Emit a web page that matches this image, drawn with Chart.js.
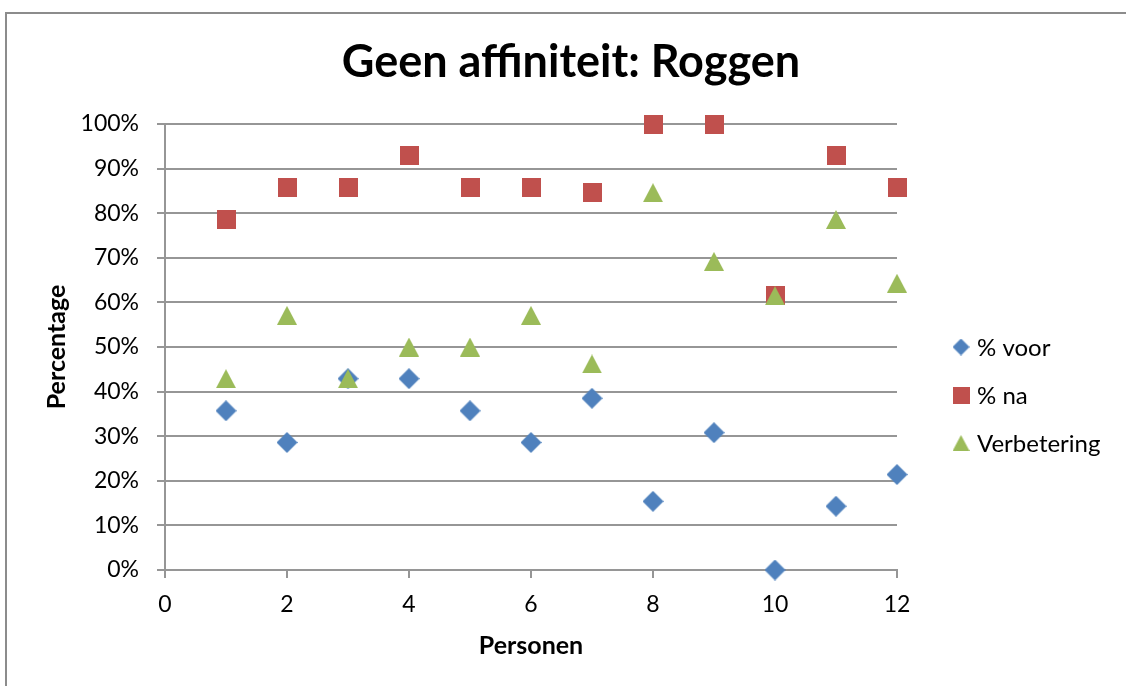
<!DOCTYPE html>
<html>
<head>
<meta charset="utf-8">
<title>Geen affiniteit: Roggen</title>
<script src="https://cdn.jsdelivr.net/npm/chart.js@4.4.1/dist/chart.umd.min.js"></script>
<style>
  html, body { margin: 0; padding: 0; background: #ffffff; }
  #wrap { position: relative; width: 1126px; height: 686px; }
</style>
</head>
<body>
<div id="wrap"><canvas id="chart" width="1126" height="686"></canvas></div>
<script>
// Person numbers on the x axis
const personen = [1, 2, 3, 4, 5, 6, 7, 8, 9, 10, 11, 12];

// Scores in percent
const pctVoor = [35.7, 28.6, 42.9, 42.9, 35.7, 28.6, 38.5, 15.4, 30.8, 0, 14.3, 21.4];
const pctNa = [78.6, 85.7, 85.7, 92.9, 85.7, 85.7, 84.6, 100, 100, 61.5, 92.9, 85.7];
const verbetering = [42.9, 57.1, 42.9, 50, 50, 57.1, 46.2, 84.6, 69.2, 61.5, 78.6, 64.3];

// Series labels and axis texts
const seriesNames = ['% voor', '% na', 'Verbetering'];
const chartTitle = 'Geen affiniteit: Roggen';
const xTitle = 'Personen';
const yTitle = 'Percentage';

// Axis tick ranges
const xRange = [0, 12];
const xStep = 2;
const yRange = [0, 100];
const yStep = 10;

const FONT = 'Lato';
const GRID = '#969696';

// Marker glyphs drawn on small canvases and used as point styles
function marker(shape, fill, w, h) {
  const c = document.createElement('canvas');
  c.width = w; c.height = h;
  const g = c.getContext('2d');
  g.fillStyle = fill;
  g.beginPath();
  if (shape === 'diamond') {
    g.moveTo(w / 2, 0); g.lineTo(w, h / 2); g.lineTo(w / 2, h); g.lineTo(0, h / 2);
  } else if (shape === 'square') {
    g.rect(0, 0, w, h);
  } else {
    g.moveTo(w / 2, 0); g.lineTo(w, h); g.lineTo(0, h);
  }
  g.closePath();
  g.fill();
  return c;
}

const BLUE = '#4F81BD', RED = '#C0504D', GREEN = '#9BBB59';
const pointMarkers = [
  marker('diamond', BLUE, 21, 21),
  marker('square', RED, 19, 19),
  marker('triangle', GREEN, 20, 19)
];
const legendMarkers = [
  marker('diamond', BLUE, 17, 17),
  marker('square', RED, 17, 17),
  marker('triangle', GREEN, 17, 16)
];

const toPoints = (vals) => personen.map((x, i) => ({ x: x, y: vals[i] }));

// Outer frame of the chart
const framePlugin = {
  id: 'frame',
  beforeDraw(chart) {
    const ctx = chart.ctx;
    ctx.save();
    ctx.fillStyle = '#ffffff';
    ctx.fillRect(0, 0, chart.width, chart.height);
    ctx.strokeStyle = '#8c8c8c';
    ctx.lineWidth = 2;
    ctx.beginPath();
    ctx.moveTo(6, chart.height);
    ctx.lineTo(6, 13);
    ctx.lineTo(chart.width, 13);
    ctx.stroke();
    ctx.restore();
  }
};

// Legend placed as a layout box on the right of the plot
const sideLegendPlugin = {
  id: 'sideLegend',
  beforeInit(chart) {
    const box = {
      position: 'right',
      weight: 10,
      fullSize: false,
      options: {},
      left: 0, top: 0, right: 0, bottom: 0, width: 0, height: 0,
      isHorizontal() { return false; },
      update(maxWidth, maxHeight) { this.width = 229; this.height = maxHeight; },
      draw() {
        const ctx = chart.ctx;
        const area = chart.chartArea;
        const mid = (area.top + area.bottom) / 2;
        ctx.save();
        ctx.font = '24px ' + FONT;
        ctx.fillStyle = '#000000';
        ctx.textAlign = 'left';
        ctx.textBaseline = 'middle';
        chart.data.datasets.forEach((ds, i) => {
          const y = mid + i * 48;
          const m = legendMarkers[i];
          ctx.drawImage(m, this.left + 64 - m.width / 2, y - m.height / 2);
          ctx.fillText(ds.label, this.left + 80, y + 1);
        });
        ctx.restore();
      }
    };
    Chart.layouts.addBox(chart, box);
  }
};

Chart.defaults.font.family = FONT;
Chart.defaults.color = '#000000';

new Chart(document.getElementById('chart'), {
  type: 'scatter',
  data: {
    datasets: [
      { label: seriesNames[0], data: toPoints(pctVoor), pointStyle: pointMarkers[0], pointRadius: 10, order: 2, clip: false },
      { label: seriesNames[1], data: toPoints(pctNa), pointStyle: pointMarkers[1], pointRadius: 10, order: 1, clip: false },
      { label: seriesNames[2], data: toPoints(verbetering), pointStyle: pointMarkers[2], pointRadius: 10, order: 0, clip: false }
    ]
  },
  options: {
    responsive: false,
    animation: false,
    devicePixelRatio: 1,
    layout: { padding: { left: 16, right: 0, top: 0, bottom: 0 } },
    plugins: {
      legend: { display: false },
      tooltip: { enabled: false },
      title: {
        display: true,
        text: chartTitle,
        color: '#000000',
        font: { family: FONT, size: 45, weight: 'bold' },
        padding: { top: 35, bottom: 35 }
      }
    },
    scales: {
      x: {
        type: 'linear',
        min: xRange[0],
        max: xRange[1],
        afterFit(scale) { scale.height = 116; },
        ticks: { stepSize: xStep, font: { size: 23 }, color: '#000000', padding: 13 },
        grid: { drawOnChartArea: false, drawTicks: true, tickLength: 8, color: GRID, lineWidth: 2 },
        border: { display: true, color: GRID, width: 2 },
        title: {
          display: true,
          text: xTitle,
          color: '#000000',
          font: { size: 25, weight: 'bold' },
          padding: { top: 0, bottom: 25 }
        }
      },
      y: {
        type: 'linear',
        min: yRange[0],
        max: yRange[1],
        afterFit(scale) { scale.width = 149; },
        ticks: {
          stepSize: yStep,
          font: { size: 23 },
          color: '#000000',
          padding: 18,
          callback: (v) => v + '%'
        },
        grid: { drawTicks: true, tickLength: 8, color: GRID, lineWidth: 2 },
        border: { display: true, color: GRID, width: 2 },
        title: {
          display: true,
          text: yTitle,
          color: '#000000',
          font: { size: 25, weight: 'bold' },
          padding: { top: 26, bottom: 0 }
        }
      }
    }
  },
  plugins: [framePlugin, sideLegendPlugin]
});
</script>
</body>
</html>
